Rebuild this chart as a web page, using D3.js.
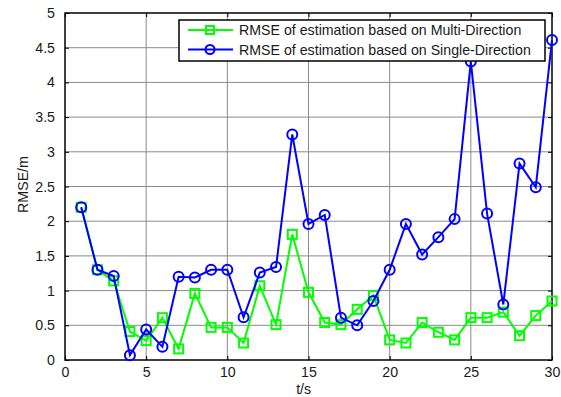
<!DOCTYPE html>
<html>
<head>
<meta charset="utf-8">
<script src="https://cdn.jsdelivr.net/npm/d3@7"></script>
<style>
  body { margin: 0; background: #fff; }
  svg { display: block; font-family: "Liberation Sans", Arial, sans-serif; }
</style>
</head>
<body>
<svg width="561" height="397"></svg>
<script>
// data
const times = d3.range(1, 31);
const multiDirection = [2.2, 1.3, 1.14, 0.41, 0.28, 0.61, 0.16, 0.96, 0.47, 0.47,
  0.245, 1.07, 0.51, 1.81, 0.975, 0.54, 0.51, 0.73, 0.93, 0.29,
  0.245, 0.54, 0.40, 0.29, 0.61, 0.61, 0.69, 0.35, 0.64, 0.85];
const singleDirection = [2.2, 1.30, 1.21, 0.07, 0.44, 0.19, 1.20, 1.19, 1.30, 1.30,
  0.615, 1.26, 1.34, 3.25, 1.96, 2.09, 0.61, 0.50, 0.85, 1.30,
  1.96, 1.52, 1.77, 2.03, 4.30, 2.11, 0.80, 2.83, 2.49, 4.61];
const xTicks = [0, 5, 10, 15, 20, 25, 30];
const yTicks = [0, 0.5, 1, 1.5, 2, 2.5, 3, 3.5, 4, 4.5, 5];
const legendLabels = ["RMSE of estimation based on Multi-Direction",
  "RMSE of estimation based on Single-Direction"];

const margin = {top: 13, right: 9, bottom: 37, left: 65};
const width = 561 - margin.left - margin.right;
const height = 397 - margin.top - margin.bottom;
const fontSize = 14.2;

const svg = d3.select("svg")
    .append("g")
    .attr("transform", "translate(" + margin.left + "," + margin.top + ")");

const x = d3.scaleLinear().domain([0, 30]).range([0, width]);
const y = d3.scaleLinear().domain([0, 5]).range([height, 0]);

// grid
svg.append("g").selectAll("line")
    .data(xTicks.slice(1, -1))
    .join("line")
    .attr("x1", d => x(d)).attr("x2", d => x(d))
    .attr("y1", 0).attr("y2", height)
    .attr("stroke", "#8a8a8a").attr("stroke-width", 1);
svg.append("g").selectAll("line")
    .data(yTicks.slice(1, -1))
    .join("line")
    .attr("x1", 0).attr("x2", width)
    .attr("y1", d => y(d)).attr("y2", d => y(d))
    .attr("stroke", "#8a8a8a").attr("stroke-width", 1);

// axes (ticks inward, on all four sides)
function styleAxis(g) {
  g.select(".domain").remove();
  g.selectAll("text").attr("font-size", fontSize).attr("fill", "#1a1a1a")
      .attr("font-family", "'Liberation Sans', Arial, sans-serif");
  g.selectAll("line").attr("stroke", "#000");
}
svg.append("g")
    .attr("transform", "translate(0," + height + ")")
    .call(d3.axisBottom(x).tickValues(xTicks).tickSize(-4).tickPadding(7))
    .call(styleAxis);
svg.append("g")
    .call(d3.axisLeft(y).tickValues(yTicks).tickFormat(d3.format("")).tickSize(-4).tickPadding(10))
    .call(styleAxis);
svg.append("g")
    .call(d3.axisTop(x).tickValues(xTicks).tickSize(-4).tickFormat(""))
    .call(styleAxis);
svg.append("g")
    .attr("transform", "translate(" + width + ",0)")
    .call(d3.axisRight(y).tickValues(yTicks).tickSize(-4).tickFormat(""))
    .call(styleAxis);

svg.append("rect")
    .attr("width", width).attr("height", height)
    .attr("fill", "none").attr("stroke", "#000").attr("stroke-width", 1.5);

// axis labels
svg.append("text")
    .attr("x", x(14.7)).attr("y", height + 34)
    .attr("text-anchor", "middle").attr("font-size", fontSize).attr("fill", "#1a1a1a")
    .text("t/s");
svg.append("text")
    .attr("transform", "translate(" + (-37) + "," + (height / 2 - 2) + ") rotate(-90)")
    .attr("text-anchor", "middle").attr("font-size", fontSize).attr("fill", "#1a1a1a")
    .text("RMSE/m");

const line = d3.line().x((d, i) => x(times[i])).y(d => y(d));

function drawSeries(values, color, shape) {
  svg.append("path")
      .datum(values)
      .attr("d", line)
      .attr("fill", "none")
      .attr("stroke", color)
      .attr("stroke-width", 2);
  const g = svg.append("g");
  if (shape === "square") {
    g.selectAll("rect").data(values).join("rect")
        .attr("x", (d, i) => x(times[i]) - 4.5)
        .attr("y", d => y(d) - 4.5)
        .attr("width", 9).attr("height", 9)
        .attr("fill", "none").attr("stroke", color).attr("stroke-width", 2);
  } else {
    g.selectAll("circle").data(values).join("circle")
        .attr("cx", (d, i) => x(times[i]))
        .attr("cy", d => y(d))
        .attr("r", 5)
        .attr("fill", "none").attr("stroke", color).attr("stroke-width", 2);
  }
}

drawSeries(multiDirection, "#00ff00", "square");
drawSeries(singleDirection, "#0000ff", "circle");

// legend
const legend = svg.append("g").attr("transform", "translate(" + (179 - margin.left) + "," + (20 - margin.top) + ")");
legend.append("rect")
    .attr("width", 366).attr("height", 41)
    .attr("fill", "#fff").attr("stroke", "#000").attr("stroke-width", 1.5);
const colors = ["#00ff00", "#0000ff"];
legendLabels.forEach((label, i) => {
  const cy = 10 + i * 19.5;
  legend.append("line")
      .attr("x1", 9).attr("x2", 54).attr("y1", cy).attr("y2", cy)
      .attr("stroke", colors[i]).attr("stroke-width", 2);
  if (i === 0) {
    legend.append("rect")
        .attr("x", 27).attr("y", cy - 4).attr("width", 8).attr("height", 8)
        .attr("fill", "none").attr("stroke", colors[i]).attr("stroke-width", 2);
  } else {
    legend.append("circle")
        .attr("cx", 31).attr("cy", cy).attr("r", 4.5)
        .attr("fill", "none").attr("stroke", colors[i]).attr("stroke-width", 2);
  }
  legend.append("text")
      .attr("x", 60).attr("y", cy + 5)
      .attr("font-size", fontSize).attr("fill", "#1a1a1a")
      .text(label);
});
</script>
</body>
</html>
